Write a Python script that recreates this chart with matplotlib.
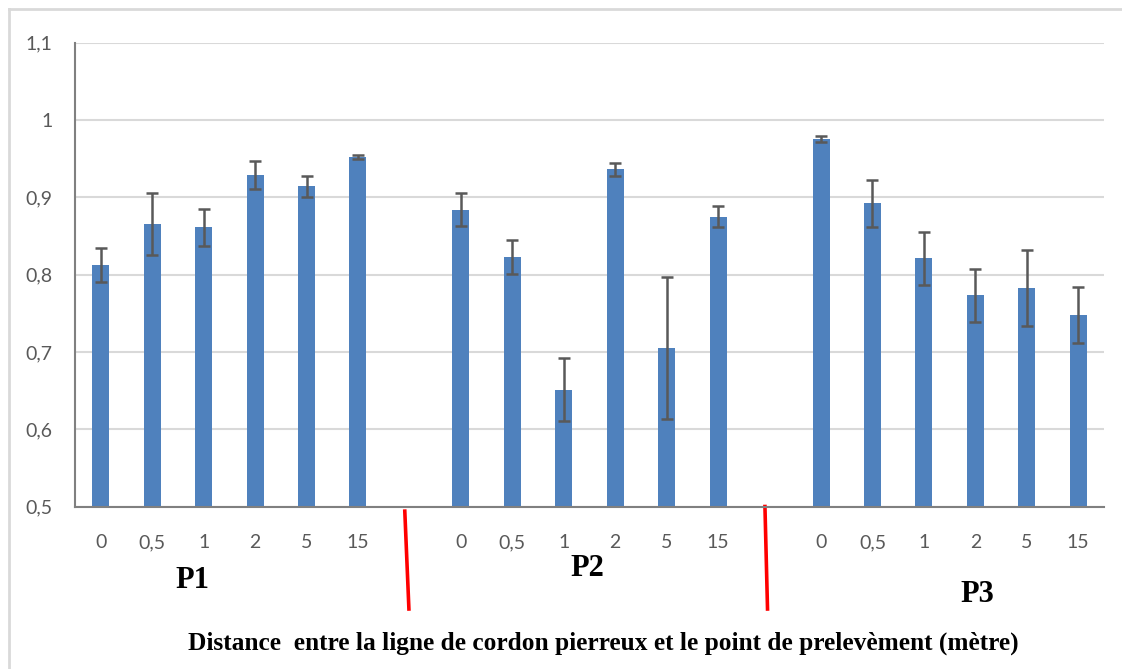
import matplotlib
matplotlib.use('Agg')
import matplotlib.pyplot as plt
import matplotlib.transforms as mtransforms
from matplotlib.lines import Line2D
import numpy as np

# données
distances = ['0', '0,5', '1', '2', '5', '15']
profils = ['P1', 'P2', 'P3']
p1_moy = [0.813, 0.865, 0.861, 0.929, 0.914, 0.952]
p1_err = [0.022, 0.040, 0.024, 0.018, 0.014, 0.003]
p2_moy = [0.884, 0.823, 0.651, 0.936, 0.705, 0.875]
p2_err = [0.021, 0.022, 0.041, 0.008, 0.092, 0.014]
p3_moy = [0.975, 0.892, 0.821, 0.773, 0.783, 0.748]
p3_err = [0.004, 0.031, 0.034, 0.034, 0.049, 0.036]
yticks = [0.5, 0.6, 0.7, 0.8, 0.9, 1.0, 1.1]
titre_x = 'Distance  entre la ligne de cordon pierreux et le point de prelevèment (mètre)'

bleu = '#4f81bd'
gris = '#595959'

# positions : 6 barres, une case vide, 6 barres, une case vide, 6 barres
pos = []
labels = []
moy = []
err = []
for k, (m, e) in enumerate([(p1_moy, p1_err), (p2_moy, p2_err), (p3_moy, p3_err)]):
    pos += list(np.arange(6) + 7 * k)
    labels += distances
    moy += m
    err += e
pos = np.array(pos)

fig = plt.figure(figsize=(11.22, 6.69), dpi=100)
ax = fig.add_axes([75 / 1122, 1 - 506.5 / 669, (1104 - 75) / 1122, (506.5 - 42.7) / 669])

ax.bar(pos, np.array(moy) - 0.5, bottom=0.5, width=0.33, color=bleu, zorder=2)
ax.errorbar(pos, moy, yerr=err, fmt='none', ecolor=gris, elinewidth=1.8,
            capsize=4, capthick=1.8, zorder=3)

ax.set_xlim(-0.5, 19.5)
ax.set_ylim(0.5, 1.1)
ax.set_yticks(yticks)
ax.set_yticklabels([f'{v:g}'.replace('.', ',') for v in yticks])
ax.set_xticks(pos)
ax.set_xticklabels(labels)
for lab in ax.get_xticklabels() + ax.get_yticklabels():
    lab.set_family('Lato')
    lab.set_fontsize(14)
    lab.set_color(gris)
ax.tick_params(axis='y', length=0, pad=16)
ax.tick_params(axis='x', length=0, pad=20)
ax.grid(axis='y', color='#d9d9d9', linewidth=1.5, zorder=0)
ax.set_axisbelow(True)
for s in ['top', 'right']:
    ax.spines[s].set_visible(False)
for s in ['left', 'bottom']:
    ax.spines[s].set_color('#808080')
    ax.spines[s].set_linewidth(1.5)

# traits rouges de séparation (x en données, y en axes)
trans = mtransforms.blended_transform_factory(ax.transData, ax.transAxes)
ax.plot([5.91, 5.99], [-0.01, -0.221], color='red', linewidth=2.6,
        transform=trans, clip_on=False)
ax.plot([12.91, 12.96], [0.0, -0.221], color='red', linewidth=2.6,
        transform=trans, clip_on=False)

# noms des profils
serif = 'Liberation Serif'
fig.text(192 / 1122, 1 - 580 / 669, profils[0], family=serif, weight='bold',
         fontsize=22, ha='center', va='center')
fig.text(587 / 1122, 1 - 569 / 669, profils[1], family=serif, weight='bold',
         fontsize=22, ha='center', va='center')
fig.text(977 / 1122, 1 - 595 / 669, profils[2], family=serif, weight='bold',
         fontsize=22, ha='center', va='center')
fig.text(603 / 1122, 1 - 643 / 669, titre_x, family=serif, weight='bold',
         fontsize=18.3, ha='center', va='center')

# cadre gris clair (haut et gauche)
fig.add_artist(Line2D([9 / 1122, 1], [1 - 8.5 / 669, 1 - 8.5 / 669],
                      color='#d9d9d9', linewidth=2, transform=fig.transFigure))
fig.add_artist(Line2D([9 / 1122, 9 / 1122], [0, 1 - 8.5 / 669],
                      color='#d9d9d9', linewidth=2, transform=fig.transFigure))

plt.savefig('out.png', dpi=100)
plt.close()
